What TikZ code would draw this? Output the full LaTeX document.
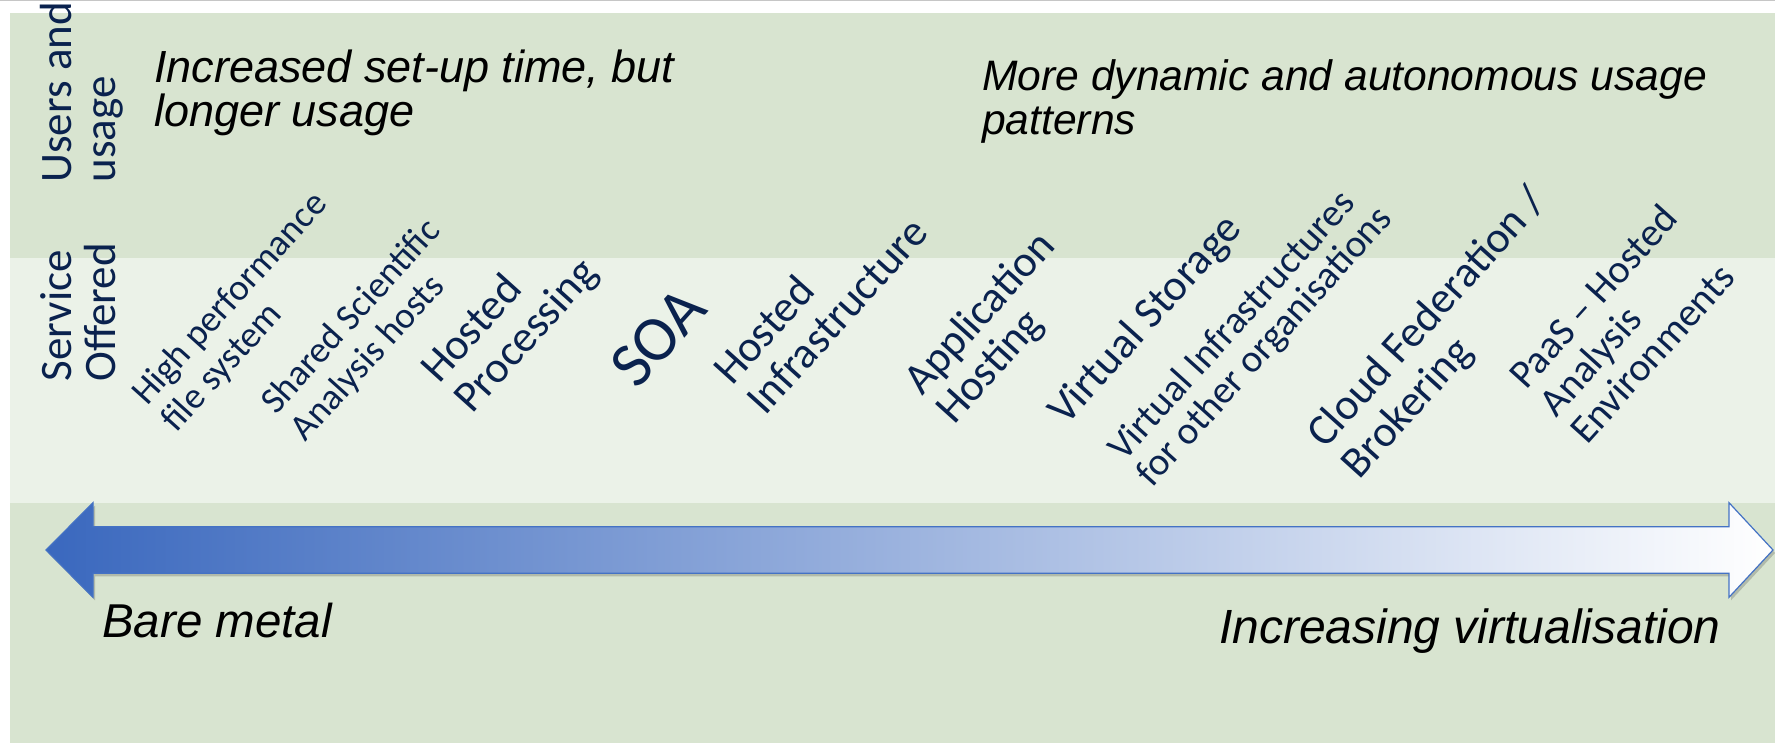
\documentclass[tikz,border=0pt]{standalone}
\usepackage{fontspec}
\setmainfont{Liberation Sans}
\newfontfamily\carlito{Carlito}
\definecolor{panel}{RGB}{216,228,208}
\definecolor{band}{RGB}{235,242,232}
\definecolor{navy}{RGB}{10,34,78}
\definecolor{arrowblue}{RGB}{58,104,190}
\definecolor{arrowmid}{RGB}{176,186,222}
\definecolor{arrowedge}{RGB}{68,114,196}
\begin{document}
\begin{tikzpicture}[x=1pt,y=1pt,
  vlabel/.style={rotate=90, anchor=base west, align=left, inner sep=0pt, text=navy,
    font={\carlito\fontsize{45}{44}\selectfont}},
  dlabel/.style={rotate=48, anchor=base west, align=left, inner sep=0pt, text=navy},
  note/.style={inner sep=0pt, align=left, text=black}]
\useasboundingbox (0,0) rectangle (1775,743);
\fill[white] (0,0) rectangle (1775,743);
\draw[gray!45, line width=1.2pt] (0,742.4) -- (1775,742.4);
% panels
\fill[panel] (10,0) rectangle (1775,730.3);
\fill[band] (10,240) rectangle (1775,485);
% row labels (anchor = baseline of last line)
\node[vlabel] (users) at (115,560.3) {Users and\\usage};
\node[vlabel] (service) at (115,361.3) {Service\\Offered};
% top notes
\node[note, anchor=base west, font={\itshape\fontsize{45}{43.5}\selectfont}] (setup) at (154,616.5) {Increased set-up time, but\\longer usage};
\node[note, anchor=base west, font={\itshape\fontsize{42.6}{44}\selectfont}] (dynamic) at (982,608) {More dynamic and autonomous usage\\patterns};
% diagonal service labels (anchor = baseline start of last line)
\node[dlabel, font={\carlito\fontsize{37}{40}\selectfont}] (hpfs) at (176.7,309.2) {High performance\\file system};
\node[dlabel, font={\carlito\fontsize{37}{40}\selectfont}] (shared) at (305.7,300.2) {Shared Scientific\\Analysis hosts};
\node[dlabel, font={\carlito\fontsize{44}{45}\selectfont}] (hproc) at (472.4,327.9) {Hosted\\Processing};
\node[dlabel, font={\carlito\fontsize{64}{64}\selectfont}] (soa) at (637,352) {SOA};
\node[dlabel, font={\carlito\fontsize{44}{45}\selectfont}] (hinfra) at (765.4,325.9) {Hosted\\Infrastructure};
\node[dlabel, font={\carlito\fontsize{44}{43}\selectfont}] (apphost) at (953.9,317.2) {Application\\Hosting};
\node[dlabel, font={\carlito\fontsize{44}{44}\selectfont}] (vstore) at (1066,316) {Virtual Storage};
\node[dlabel, font={\carlito\fontsize{39}{38}\selectfont}] (vinfra) at (1152.2,254.6) {Virtual Infrastructures\\for other organisations};
\node[dlabel, font={\carlito\fontsize{44}{46}\selectfont}] (cloud) at (1359.2,262.2) {Cloud Federation /\\Brokering};
\node[dlabel, font={\carlito\fontsize{40}{41}\selectfont}] (paas) at (1586.9,297.1) {PaaS – Hosted\\Analysis\\Environments};
% double arrow
\fill[black, opacity=0.18] (48,190) -- (95,237.3) -- (95,213.3) -- (1731,213.3) -- (1731,237.3) -- (1775,190) -- (1731,142.7) -- (1731,166.7) -- (95,166.7) -- (95,142.7) -- cycle;
\shade[left color=arrowblue, middle color=arrowmid, right color=white, draw=arrowedge, line width=1.2pt, line join=miter]
  (46,193) -- (93,240.3) -- (93,216.3) -- (1729,216.3) -- (1729,240.3) -- (1773,193)
  -- (1729,145.7) -- (1729,169.7) -- (93,169.7) -- (93,145.7) -- cycle;
% bottom notes
\node[note, anchor=base west, font={\itshape\fontsize{47.5}{47.5}\selectfont}] (bare) at (102,105) {Bare metal};
\node[note, anchor=base east, font={\itshape\fontsize{48}{48}\selectfont}] (virt) at (1721,99) {Increasing virtualisation};
\end{tikzpicture}
\end{document}
